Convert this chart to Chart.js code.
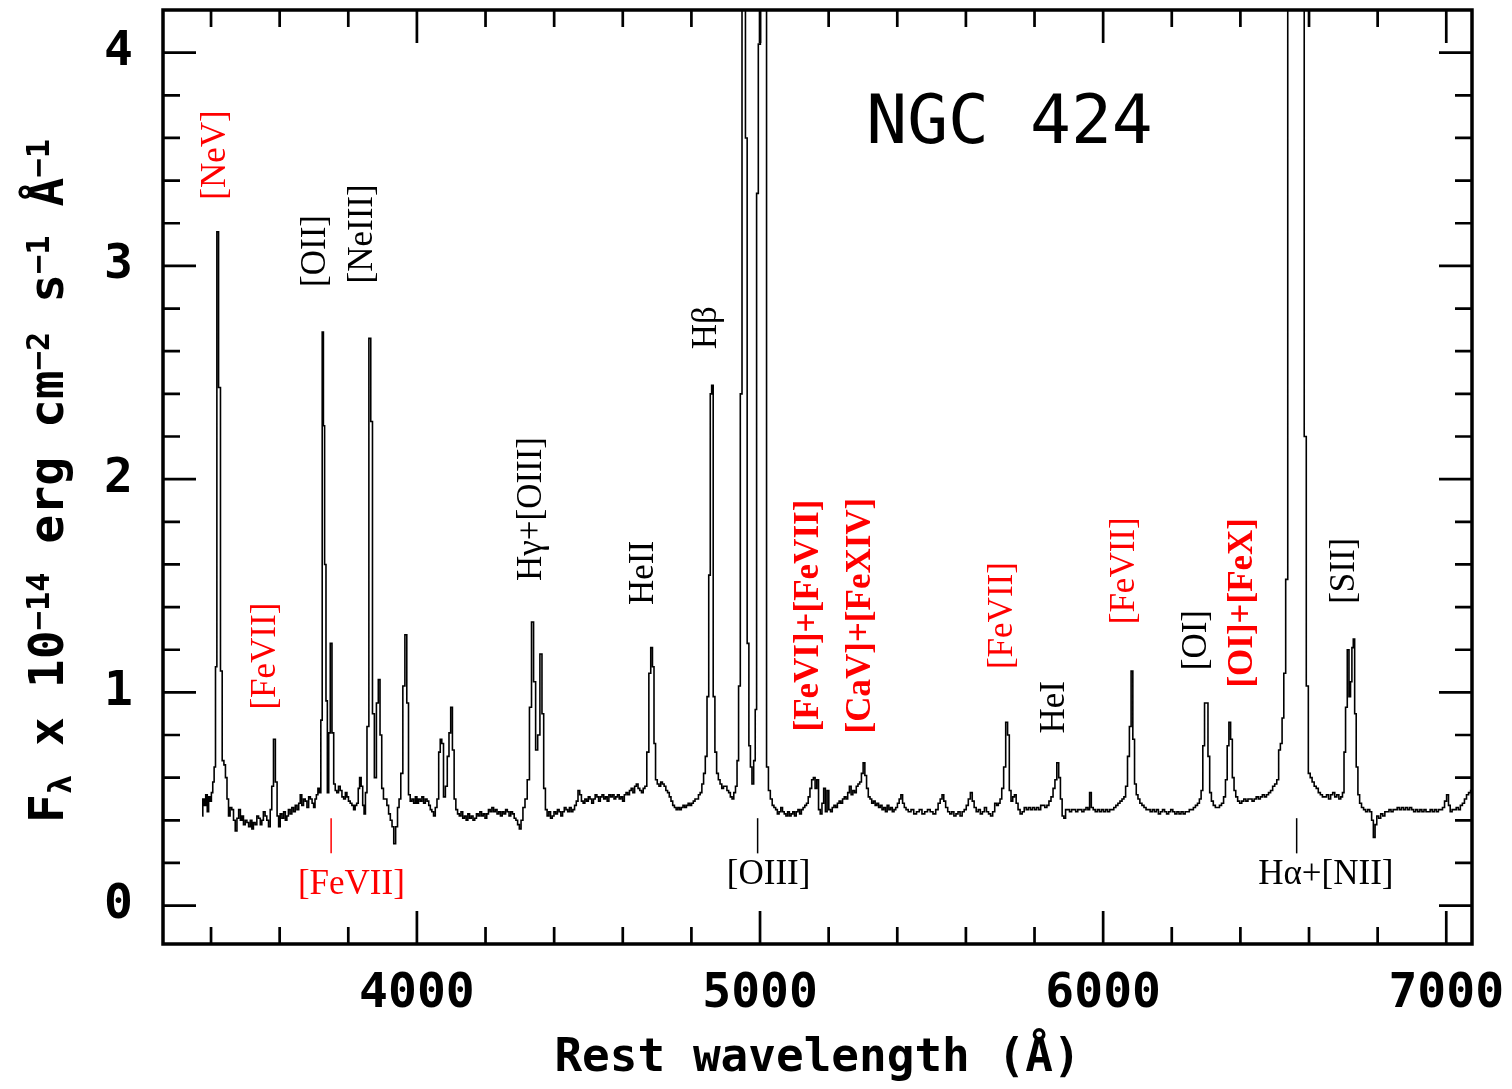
<!DOCTYPE html>
<html>
<head>
<meta charset="utf-8">
<title>NGC 424</title>
<script src="https://cdn.jsdelivr.net/npm/chart.js@4.4.1/dist/chart.umd.min.js"></script>
<style>
  html, body { margin: 0; padding: 0; background: #fff; }
  #wrap { width: 1512px; height: 1089px; position: relative; }
</style>
</head>
<body>
<div id="wrap"><canvas id="spectrum"></canvas></div>
<script>
// rest wavelength (Å)
const wavelength = [
  3374, 3378, 3382, 3387, 3391, 3395, 3399, 3403, 3407, 3411,
  3415, 3419, 3425, 3430, 3435, 3440, 3444, 3449, 3453, 3458,
  3463, 3468, 3473, 3478, 3483, 3488, 3492, 3497, 3502, 3507,
  3512, 3517, 3521, 3526, 3531, 3536, 3541, 3546, 3550, 3555,
  3560, 3565, 3570, 3575, 3579, 3585, 3590, 3595, 3599, 3604,
  3609, 3614, 3619, 3623, 3628, 3633, 3638, 3643, 3648, 3653,
  3658, 3662, 3667, 3672, 3677, 3682, 3687, 3692, 3697, 3701,
  3705, 3709, 3714, 3718, 3722, 3726, 3729, 3733, 3737, 3741,
  3745, 3750, 3755, 3760, 3764, 3769, 3774, 3779, 3784, 3789,
  3794, 3798, 3803, 3808, 3813, 3818, 3822, 3827, 3831, 3835,
  3840, 3844, 3848, 3852, 3857, 3863, 3868, 3873, 3879, 3885,
  3890, 3895, 3900, 3905, 3910, 3915, 3920, 3925, 3930, 3935,
  3941, 3946, 3950, 3956, 3962, 3968, 3973, 3978, 3983, 3988,
  3993, 3998, 4002, 4007, 4012, 4017, 4022, 4027, 4032, 4037,
  4041, 4046, 4051, 4056, 4061, 4066, 4070, 4075, 4080, 4086,
  4091, 4096, 4101, 4106, 4111, 4116, 4121, 4126, 4131, 4136,
  4141, 4146, 4151, 4156, 4161, 4166, 4171, 4176, 4181, 4186,
  4191, 4196, 4201, 4206, 4211, 4216, 4221, 4226, 4231, 4236,
  4241, 4246, 4251, 4256, 4261, 4266, 4271, 4276, 4281, 4286,
  4291, 4296, 4301, 4306, 4312, 4318, 4325, 4331, 4337, 4343,
  4349, 4355, 4362, 4367, 4372, 4377, 4382, 4387, 4392, 4397,
  4402, 4407, 4412, 4417, 4422, 4427, 4432, 4437, 4442, 4447,
  4452, 4457, 4462, 4467, 4472, 4477, 4482, 4487, 4492, 4497,
  4502, 4507, 4512, 4517, 4522, 4527, 4532, 4537, 4542, 4547,
  4552, 4557, 4562, 4567, 4572, 4577, 4582, 4587, 4592, 4597,
  4602, 4607, 4612, 4617, 4622, 4627, 4632, 4637, 4642, 4647,
  4652, 4657, 4662, 4667, 4673, 4679, 4684, 4689, 4693, 4698,
  4703, 4708, 4713, 4718, 4723, 4728, 4733, 4738, 4743, 4748,
  4753, 4758, 4763, 4768, 4773, 4778, 4783, 4788, 4793, 4798,
  4803, 4808, 4813, 4818, 4823, 4828, 4833, 4838, 4843, 4848,
  4853, 4857, 4861, 4866, 4871, 4876, 4881, 4886, 4891, 4896,
  4901, 4906, 4911, 4916, 4921, 4926, 4931, 4935, 4940, 4945,
  4950, 4955, 4960, 4965, 4970, 4974, 4979, 4984, 4988, 4992,
  4998, 5004, 5010, 5016, 5022, 5027, 5033, 5038, 5043, 5048,
  5053, 5058, 5063, 5068, 5073, 5078, 5083, 5088, 5093, 5098,
  5103, 5108, 5113, 5118, 5123, 5128, 5133, 5138, 5143, 5148,
  5153, 5158, 5163, 5168, 5173, 5178, 5183, 5188, 5193, 5198,
  5203, 5208, 5213, 5218, 5223, 5228, 5233, 5238, 5243, 5248,
  5253, 5258, 5263, 5268, 5273, 5278, 5283, 5288, 5293, 5298,
  5303, 5308, 5313, 5318, 5323, 5328, 5333, 5338, 5343, 5348,
  5353, 5358, 5363, 5368, 5373, 5378, 5383, 5388, 5393, 5398,
  5403, 5408, 5413, 5418, 5423, 5428, 5436, 5444, 5452, 5460,
  5468, 5476, 5484, 5492, 5500, 5508, 5516, 5522, 5528, 5533,
  5538, 5544, 5550, 5556, 5562, 5568, 5574, 5580, 5586, 5592,
  5598, 5604, 5610, 5616, 5621, 5627, 5633, 5639, 5645, 5651,
  5657, 5663, 5669, 5675, 5681, 5687, 5692, 5697, 5702, 5707,
  5713, 5719, 5724, 5729, 5734, 5739, 5744, 5749, 5755, 5761,
  5767, 5773, 5779, 5785, 5791, 5797, 5803, 5809, 5815, 5821,
  5827, 5833, 5839, 5845, 5851, 5857, 5862, 5868, 5873, 5878,
  5883, 5888, 5893, 5899, 5905, 5911, 5917, 5923, 5929, 5935,
  5941, 5947, 5953, 5958, 5963, 5968, 5974, 5980, 5986, 5992,
  5998, 6004, 6010, 6016, 6022, 6028, 6034, 6040, 6046, 6052,
  6058, 6063, 6068, 6074, 6079, 6084, 6089, 6094, 6099, 6104,
  6110, 6116, 6122, 6128, 6134, 6140, 6146, 6152, 6158, 6164,
  6170, 6176, 6182, 6188, 6194, 6200, 6206, 6212, 6218, 6224,
  6230, 6236, 6242, 6248, 6254, 6260, 6266, 6272, 6278, 6283,
  6288, 6293, 6298, 6303, 6308, 6313, 6318, 6324, 6330, 6336,
  6342, 6348, 6354, 6359, 6364, 6369, 6374, 6379, 6384, 6389,
  6395, 6401, 6407, 6413, 6419, 6425, 6431, 6437, 6443, 6449,
  6455, 6461, 6467, 6473, 6479, 6485, 6491, 6497, 6503, 6509,
  6514, 6519, 6524, 6529, 6535, 6541, 6547, 6553, 6559, 6565,
  6571, 6577, 6583, 6589, 6595, 6601, 6606, 6612, 6618, 6624,
  6630, 6636, 6642, 6648, 6654, 6660, 6666, 6672, 6678, 6684,
  6690, 6695, 6700, 6704, 6709, 6714, 6719, 6723, 6727, 6731,
  6735, 6740, 6745, 6750, 6756, 6762, 6768, 6774, 6780, 6785,
  6790, 6795, 6800, 6806, 6812, 6818, 6824, 6830, 6836, 6842,
  6848, 6854, 6860, 6866, 6872, 6878, 6884, 6890, 6896, 6902,
  6908, 6914, 6920, 6926, 6932, 6938, 6944, 6950, 6956, 6962,
  6968, 6974, 6980, 6986, 6992, 6998, 7004, 7009, 7014, 7020,
  7026, 7032, 7038, 7044, 7050, 7056, 7062, 7068, 7074, 7080
];

// F_lambda in units of 1e-14 erg cm^-2 s^-1 A^-1 (peaks above 4.2 are off the frame)
const flux = [
  0.42, 0.50, 0.47, 0.52, 0.44, 0.51, 0.49, 0.53, 0.58, 0.65,
  1.12, 3.16, 2.43, 1.10, 0.68, 0.66, 0.60, 0.50, 0.42, 0.46,
  0.45, 0.40, 0.35, 0.41, 0.45, 0.40, 0.42, 0.38, 0.40, 0.39,
  0.37, 0.40, 0.36, 0.39, 0.38, 0.42, 0.41, 0.38, 0.40, 0.44,
  0.42, 0.40, 0.37, 0.45, 0.56, 0.78, 0.58, 0.42, 0.37, 0.43,
  0.41, 0.44, 0.40, 0.42, 0.45, 0.43, 0.46, 0.44, 0.47, 0.45,
  0.48, 0.52, 0.47, 0.50, 0.49, 0.46, 0.51, 0.50, 0.48, 0.46,
  0.50, 0.52, 0.55, 0.53, 0.87, 2.69, 2.25, 1.60, 0.96, 0.53,
  0.81, 1.23, 0.81, 0.57, 0.54, 0.53, 0.56, 0.54, 0.51, 0.50,
  0.53, 0.51, 0.49, 0.48, 0.47, 0.45, 0.47, 0.48, 0.55, 0.60,
  0.56, 0.47, 0.43, 0.53, 0.84, 2.66, 2.27, 0.90, 0.60, 0.95,
  1.06, 0.80, 0.55, 0.50, 0.50, 0.47, 0.43, 0.40, 0.37, 0.29,
  0.37, 0.46, 0.50, 0.62, 1.03, 1.27, 0.95, 0.52, 0.49, 0.50,
  0.48, 0.51, 0.48, 0.50, 0.49, 0.51, 0.48, 0.50, 0.49, 0.47,
  0.45, 0.44, 0.42, 0.46, 0.50, 0.72, 0.78, 0.76, 0.51, 0.56,
  0.70, 0.81, 0.93, 0.73, 0.50, 0.45, 0.43, 0.42, 0.44, 0.41,
  0.42, 0.40, 0.43, 0.41, 0.42, 0.40, 0.41, 0.43, 0.42, 0.44,
  0.42, 0.43, 0.41, 0.43, 0.45, 0.44, 0.46, 0.44, 0.45, 0.43,
  0.44, 0.42, 0.44, 0.43, 0.45, 0.44, 0.42, 0.44, 0.43, 0.41,
  0.40, 0.38, 0.36, 0.40, 0.46, 0.50, 0.59, 0.93, 1.33, 1.05,
  0.73, 0.80, 1.18, 0.90, 0.55, 0.45, 0.42, 0.44, 0.41, 0.42,
  0.44, 0.43, 0.45, 0.44, 0.42, 0.44, 0.46, 0.45, 0.44, 0.46,
  0.44, 0.45, 0.47, 0.49, 0.54, 0.52, 0.49, 0.48, 0.50, 0.49,
  0.51, 0.50, 0.48, 0.50, 0.52, 0.51, 0.49, 0.51, 0.52, 0.50,
  0.51, 0.49, 0.52, 0.51, 0.52, 0.50, 0.51, 0.52, 0.50, 0.51,
  0.49, 0.52, 0.53, 0.52, 0.54, 0.55, 0.53, 0.56, 0.57, 0.55,
  0.54, 0.53, 0.55, 0.56, 0.72, 1.09, 1.21, 1.12, 0.76, 0.59,
  0.57, 0.56, 0.58, 0.57, 0.56, 0.54, 0.53, 0.51, 0.49, 0.47,
  0.46, 0.45, 0.46, 0.45, 0.46, 0.47, 0.46, 0.47, 0.48, 0.47,
  0.48, 0.49, 0.50, 0.50, 0.52, 0.53, 0.57, 0.62, 0.70, 0.98,
  1.55, 2.40, 2.44, 0.98, 0.72, 0.62, 0.59, 0.57, 0.55, 0.56,
  0.56, 0.54, 0.53, 0.51, 0.50, 0.53, 0.56, 0.68, 1.03, 2.40,
  4.80, 5.50, 3.60, 1.23, 0.75, 0.65, 0.57, 0.68, 0.92, 3.34,
  4.04, 14.0, 10.5, 4.80, 0.65, 0.54, 0.50, 0.47, 0.46, 0.45,
  0.43, 0.44, 0.46, 0.44, 0.43, 0.42, 0.44, 0.42, 0.43, 0.44,
  0.42, 0.44, 0.45, 0.43, 0.45, 0.46, 0.47, 0.48, 0.51, 0.55,
  0.59, 0.60, 0.55, 0.59, 0.45, 0.43, 0.48, 0.55, 0.44, 0.54,
  0.45, 0.44, 0.46, 0.47, 0.46, 0.48, 0.49, 0.48, 0.50, 0.51,
  0.50, 0.53, 0.56, 0.52, 0.54, 0.53, 0.56, 0.57, 0.58, 0.62,
  0.67, 0.61, 0.55, 0.51, 0.50, 0.48, 0.49, 0.47, 0.48, 0.46,
  0.47, 0.45, 0.46, 0.44, 0.47, 0.45, 0.46, 0.44, 0.45, 0.46,
  0.48, 0.50, 0.52, 0.48, 0.46, 0.45, 0.44, 0.45, 0.43, 0.44,
  0.45, 0.43, 0.44, 0.45, 0.44, 0.43, 0.45, 0.48, 0.50, 0.52,
  0.49, 0.46, 0.44, 0.43, 0.44, 0.42, 0.43, 0.44, 0.42, 0.44,
  0.45, 0.47, 0.50, 0.53, 0.49, 0.46, 0.44, 0.45, 0.43, 0.44,
  0.46, 0.44, 0.43, 0.42, 0.44, 0.48, 0.47, 0.48, 0.50, 0.55,
  0.65, 0.86, 0.80, 0.54, 0.49, 0.51, 0.52, 0.48, 0.45, 0.43,
  0.44, 0.46, 0.45, 0.46, 0.45, 0.46, 0.45, 0.46, 0.45, 0.47,
  0.47, 0.46, 0.47, 0.49, 0.51, 0.55, 0.59, 0.67, 0.60, 0.50,
  0.42, 0.41, 0.45, 0.45, 0.44, 0.45, 0.45, 0.44, 0.45, 0.45,
  0.44, 0.45, 0.46, 0.45, 0.53, 0.46, 0.45, 0.44, 0.45, 0.44,
  0.45, 0.44, 0.45, 0.44, 0.45, 0.45, 0.46, 0.47, 0.48, 0.49,
  0.50, 0.51, 0.56, 0.70, 0.84, 1.10, 0.78, 0.57, 0.52, 0.50,
  0.48, 0.47, 0.46, 0.45, 0.45, 0.44, 0.45, 0.44, 0.45, 0.43,
  0.44, 0.45, 0.44, 0.43, 0.44, 0.45, 0.44, 0.43, 0.44, 0.43,
  0.44, 0.43, 0.44, 0.44, 0.45, 0.45, 0.46, 0.47, 0.48, 0.50,
  0.54, 0.75, 0.95, 0.95, 0.70, 0.53, 0.49, 0.47, 0.46, 0.46,
  0.47, 0.48, 0.51, 0.59, 0.75, 0.86, 0.78, 0.60, 0.54, 0.51,
  0.49, 0.48, 0.49, 0.50, 0.49, 0.50, 0.50, 0.49, 0.50, 0.51,
  0.50, 0.51, 0.52, 0.51, 0.52, 0.53, 0.54, 0.56, 0.57, 0.59,
  0.73, 0.76, 0.88, 1.09, 1.53, 4.60, 6.20, 6.60, 7.80, 8.40,
  6.80, 5.60, 5.20, 2.20, 1.03, 0.62, 0.60, 0.58, 0.56, 0.55,
  0.53, 0.52, 0.51, 0.51, 0.52, 0.50, 0.52, 0.53, 0.51, 0.52,
  0.50, 0.51, 0.53, 0.72, 0.93, 1.20, 0.98, 1.05, 1.21, 1.25,
  0.90, 0.65, 0.52, 0.48, 0.46, 0.45, 0.44, 0.45, 0.44, 0.40,
  0.32, 0.38, 0.42, 0.41, 0.43, 0.42, 0.44, 0.44, 0.45, 0.44,
  0.45, 0.45, 0.46, 0.45, 0.46, 0.45, 0.46, 0.45, 0.46, 0.45,
  0.44, 0.45, 0.44, 0.45, 0.44, 0.45, 0.44, 0.44, 0.45, 0.44,
  0.45, 0.44, 0.45, 0.45, 0.46, 0.49, 0.52, 0.47, 0.44, 0.45,
  0.45, 0.46, 0.45, 0.47, 0.48, 0.50, 0.52, 0.53, 0.54, 0.55
];

const xTicks = [4000, 5000, 6000, 7000];
const yTicks = [0, 1, 2, 3, 4];
const xMinorStep = 200;
const yMinorStep = 0.2;

// line identifications written upright along the spectrum
const upLabels = [
  { text: '[NeV]',          wl: 3413, at: 3.52, red: true },
  { text: '[FeVII]',        wl: 3561, at: 1.17, red: true },
  { text: '[OII]',          wl: 3704, at: 3.07 },
  { text: '[NeIII]',        wl: 3841, at: 3.15 },
  { text: 'Hγ+[OIII]',      wl: 4334, at: 1.86 },
  { text: 'HeII',           wl: 4660, at: 1.56 },
  { text: 'Hβ',             wl: 4846, at: 2.71 },
  { text: '[FeVI]+[FeVII]', wl: 5144, at: 1.36, red: true, bold: true },
  { text: '[CaV]+[FeXIV]',  wl: 5293, at: 1.36, red: true, bold: true },
  { text: '[FeVII]',        wl: 5707, at: 1.36, red: true },
  { text: 'HeI',            wl: 5859, at: 0.93 },
  { text: '[FeVII]',        wl: 6063, at: 1.57, red: true },
  { text: '[OI]',           wl: 6273, at: 1.245 },
  { text: '[OI]+[FeX]',     wl: 6407, at: 1.42, red: true, bold: true },
  { text: '[SII]',          wl: 6704, at: 1.57 }
];

// identifications below the spectrum, with a short marker line
const lowLabels = [
  { text: '[FeVII]',   mark: 3750, wl: 3809, at: 0.098, red: true },
  { text: '[OIII]',    mark: 4993, wl: 5025, at: 0.145 },
  { text: 'Hα+[NII]',  mark: 6564, wl: 6649, at: 0.145 }
];

const MONO = '"DejaVu Sans Mono", monospace';
const SERIF = '"Liberation Serif", "DejaVu Serif", serif';

// frame and inward ticks on all four sides
const framePlugin = {
  id: 'frame',
  afterDatasetsDraw(chart) {
    const { ctx, chartArea: a, scales: { x, y } } = chart;
    ctx.save();
    ctx.strokeStyle = '#000';
    ctx.lineWidth = 2.7;
    ctx.beginPath();
    for (let w = Math.ceil(x.min / xMinorStep) * xMinorStep; w <= x.max; w += xMinorStep) {
      const px = x.getPixelForValue(w);
      const len = xTicks.includes(w) ? 33 : 17;
      ctx.moveTo(px, a.bottom); ctx.lineTo(px, a.bottom - len);
      ctx.moveTo(px, a.top); ctx.lineTo(px, a.top + len);
    }
    for (let k = 0; k * yMinorStep <= y.max - 0.05; k++) {
      const f = k * yMinorStep;
      const py = y.getPixelForValue(f);
      const len = yTicks.includes(Math.round(f * 1000) / 1000) ? 33 : 17;
      ctx.moveTo(a.left, py); ctx.lineTo(a.left + len, py);
      ctx.moveTo(a.right, py); ctx.lineTo(a.right - len, py);
    }
    ctx.stroke();
    ctx.lineWidth = 3.5;
    ctx.strokeRect(a.left, a.top, a.right - a.left, a.bottom - a.top);
    ctx.restore();
  }
};

// line names, object name and the y axis title (needs superscripts)
const textPlugin = {
  id: 'texts',
  afterDatasetsDraw(chart) {
    const { ctx, chartArea: a, scales: { x, y } } = chart;
    ctx.save();
    ctx.textAlign = 'center';
    ctx.textBaseline = 'middle';

    upLabels.forEach(l => {
      ctx.save();
      ctx.translate(x.getPixelForValue(l.wl), y.getPixelForValue(l.at));
      ctx.rotate(-Math.PI / 2);
      ctx.font = (l.bold ? 'bold ' : '') + '35px ' + SERIF;
      ctx.fillStyle = l.red ? '#ff0000' : '#000';
      ctx.fillText(l.text, 0, 0);
      ctx.restore();
    });

    lowLabels.forEach(l => {
      const col = l.red ? '#ff0000' : '#000';
      const mx = x.getPixelForValue(l.mark);
      ctx.strokeStyle = col;
      ctx.lineWidth = 1.5;
      ctx.beginPath();
      ctx.moveTo(mx, y.getPixelForValue(0.41));
      ctx.lineTo(mx, y.getPixelForValue(0.245));
      ctx.stroke();
      ctx.font = '35px ' + SERIF;
      ctx.fillStyle = col;
      ctx.fillText(l.text, x.getPixelForValue(l.wl), y.getPixelForValue(l.at));
    });

    ctx.fillStyle = '#000';
    ctx.font = '68px ' + MONO;
    ctx.fillText('NGC 424', x.getPixelForValue(5727), y.getPixelForValue(3.66));

    // y axis title, rotated, drawn piece by piece
    const parts = [
      ['F', 0], ['λ', 1], [' x 10', 0], ['−14', -1], [' erg cm', 0], ['−2', -1],
      [' s', 0], ['−1', -1], [' Å', 0], ['−1', -1]
    ];
    const fontFor = s => 'bold ' + (s === 0 ? 48 : 32) + 'px ' + MONO;
    ctx.save();
    ctx.translate(a.left - 100, a.bottom - 121);
    ctx.rotate(-Math.PI / 2);
    ctx.textAlign = 'left';
    ctx.textBaseline = 'alphabetic';
    let pos = 0;
    parts.forEach(([t, s]) => {
      ctx.font = fontFor(s);
      ctx.fillText(t, pos, s === 0 ? 0 : (s > 0 ? 8 : -14));
      pos += ctx.measureText(t).width;
    });
    ctx.restore();
    ctx.restore();
  }
};

new Chart(document.getElementById('spectrum'), {
  type: 'line',
  data: {
    datasets: [{
      data: wavelength.map((w, i) => ({ x: w, y: flux[i] })),
      borderColor: '#000',
      borderWidth: 1.6,
      pointRadius: 0,
      stepped: 'middle',
      fill: false
    }]
  },
  options: {
    responsive: true,
    maintainAspectRatio: false,
    animation: false,
    events: [],
    layout: { padding: { top: 10, right: 40, left: 0, bottom: 0 } },
    plugins: { legend: { display: false }, tooltip: { enabled: false } },
    scales: {
      x: {
        type: 'linear',
        min: 3260,
        max: 7075,
        grid: { display: false, drawTicks: false },
        border: { display: false },
        afterBuildTicks: s => { s.ticks = xTicks.map(v => ({ value: v })); },
        // fixed axis height; drop the label overflow padding so the frame keeps its place
        afterFit: s => { s.height = 145; s.paddingLeft = 0; s.paddingRight = 0; },
        ticks: {
          autoSkip: false,
          maxRotation: 0,
          padding: 22,
          color: '#000',
          font: { family: MONO, size: 48, weight: 'bold' },
          callback: v => String(v)
        },
        title: {
          display: true,
          text: 'Rest wavelength (Å)',
          color: '#000',
          font: { family: MONO, size: 46, weight: 'bold' },
          padding: { top: 0, bottom: 2 }
        }
      },
      y: {
        min: -0.18,
        max: 4.2,
        grid: { display: false, drawTicks: false },
        border: { display: false },
        afterBuildTicks: s => { s.ticks = yTicks.map(v => ({ value: v })); },
        afterFit: s => { s.width = 163; s.paddingTop = 0; s.paddingBottom = 0; },
        ticks: {
          padding: 30,
          color: '#000',
          font: { family: MONO, size: 48, weight: 'bold' },
          callback: v => String(v)
        }
      }
    }
  },
  plugins: [framePlugin, textPlugin]
});
</script>
</body>
</html>
